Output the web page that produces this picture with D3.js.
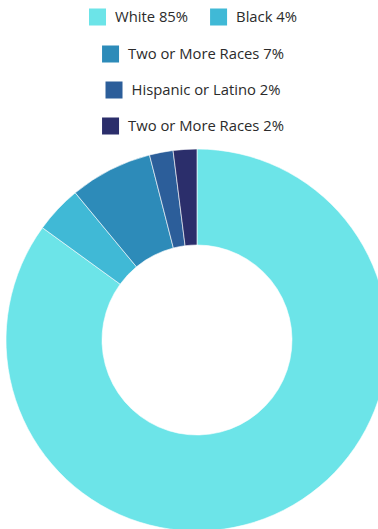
<!DOCTYPE html>
<html>
<head>
<meta charset="utf-8">
<script src="https://cdn.jsdelivr.net/npm/d3@7"></script>
<style>
  body { margin: 0; background: #fff; }
  svg { display: block; }
</style>
</head>
<body>
<div id="chart"></div>
<script>
// Daten
const labels = ["White", "Black", "Two or More Races", "Hispanic or Latino", "Two or More Races"];
const values = [85, 4, 7, 2, 2];
const colors = ["#6ce4e8", "#40b9d6", "#2d8bb9", "#2c5e9a", "#2b2e6b"];
// Legendenzeilen (Indizes)
const legendRows = [[0, 1], [2], [3], [4]];

const width = 378, height = 529;

const svg = d3.select("#chart").append("svg")
    .attr("width", width)
    .attr("height", height);

// Donut
const cx = 197, cy = 340;
const outerR = 191, innerR = 95;

const pie = d3.pie().sort(null).value(d => d)(values);
const arc = d3.arc().innerRadius(innerR).outerRadius(outerR);

svg.append("g")
    .attr("transform", `translate(${cx},${cy})`)
    .selectAll("path")
    .data(pie)
    .enter()
    .append("path")
    .attr("d", arc)
    .attr("fill", (d, i) => colors[i])
    .attr("stroke", "#fff")
    .attr("stroke-width", 0.6);

// Legende
const rowY = [17, 54, 90, 126];
const box = 17, gap = 9, itemGap = 22;
const legend = svg.append("g")
    .attr("font-family", "'Open Sans', sans-serif")
    .attr("font-size", "14.8px")
    .attr("fill", "#2b2b2b");

legendRows.forEach((row, r) => {
    const g = legend.append("g");
    let x = 0;
    row.forEach(i => {
        g.append("rect")
            .attr("x", x)
            .attr("y", rowY[r] - box / 2)
            .attr("width", box)
            .attr("height", box)
            .attr("fill", colors[i]);
        const t = g.append("text")
            .attr("x", x + box + gap)
            .attr("y", rowY[r])
            .attr("dy", "0.35em")
            .text(`${labels[i]} ${values[i]}%`);
        x += box + gap + t.node().getComputedTextLength() + itemGap;
    });
    const w = x - itemGap;
    g.attr("transform", `translate(${193 - w / 2},0)`);
});
</script>
</body>
</html>
